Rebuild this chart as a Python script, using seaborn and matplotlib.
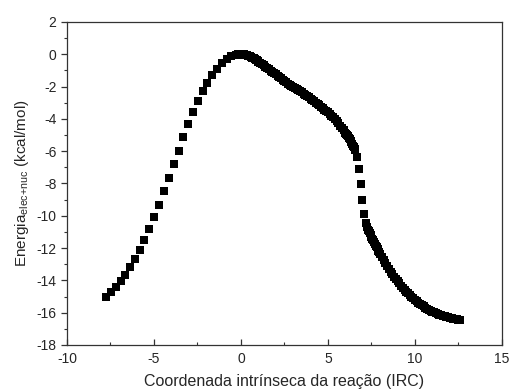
import numpy as np
import pandas as pd
import seaborn as sns
import matplotlib.pyplot as plt
from matplotlib.ticker import MultipleLocator

# ramo esquerdo (pontos espaçados)
irc_esq = [-7.76, -7.47, -7.18, -6.91, -6.65, -6.36, -6.09, -5.82, -5.56, -5.27,
           -5.00, -4.71, -4.44, -4.16, -3.87, -3.58, -3.32, -3.05, -2.76, -2.47,
           -2.20, -1.94, -1.67, -1.38, -1.09, -0.82, -0.56, -0.29, -0.20, -0.10]
en_esq = [-15.03, -14.72, -14.41, -14.04, -13.65, -13.19, -12.68, -12.14, -11.52, -10.84,
          -10.10, -9.31, -8.48, -7.64, -6.79, -5.97, -5.12, -4.34, -3.59, -2.89,
          -2.29, -1.76, -1.28, -0.89, -0.54, -0.29, -0.09, -0.02, -0.01, 0.00]

# ramo direito, parte densa 1
irc_dir1 = [0.0, 0.05, 0.1, 0.15, 0.2, 0.25, 0.3, 0.35, 0.4, 0.45, 0.5, 0.55, 0.6, 0.65, 0.7, 0.75, 0.8, 0.85, 0.9, 0.95,
            1.0, 1.1, 1.2, 1.3, 1.4, 1.5, 1.6, 1.7, 1.8, 1.9,
            2.0, 2.1, 2.2, 2.3, 2.4, 2.5, 2.6, 2.7, 2.8, 2.9,
            3.0, 3.1, 3.2, 3.3, 3.4, 3.5, 3.6, 3.7, 3.8, 3.9,
            4.0, 4.1, 4.2, 4.3, 4.4, 4.5, 4.6, 4.7, 4.8, 4.9,
            5.0, 5.1, 5.2, 5.3, 5.4, 5.5, 5.6, 5.7, 5.8, 5.9,
            6.0, 6.05, 6.1, 6.15, 6.2, 6.25, 6.3, 6.35, 6.4, 6.45, 6.5, 6.54, 6.58]
en_dir1 = [0.00, 0.00, -0.01, -0.01, -0.02, -0.03, -0.04, -0.06, -0.08, -0.10, -0.12, -0.14, -0.17, -0.20, -0.23, -0.26, -0.30, -0.33, -0.37, -0.41,
           -0.45, -0.53, -0.61, -0.69, -0.77, -0.85, -0.93, -1.01, -1.09, -1.17,
           -1.25, -1.33, -1.41, -1.49, -1.57, -1.65, -1.73, -1.81, -1.88, -1.95,
           -2.02, -2.08, -2.15, -2.21, -2.28, -2.35, -2.43, -2.51, -2.59, -2.67,
           -2.75, -2.83, -2.91, -2.99, -3.07, -3.15, -3.24, -3.33, -3.42, -3.51,
           -3.60, -3.70, -3.80, -3.91, -4.03, -4.15, -4.28, -4.41, -4.55, -4.70,
           -4.85, -4.93, -5.01, -5.09, -5.18, -5.27, -5.36, -5.45, -5.55, -5.65, -5.75, -5.85, -5.95]

# queda abrupta (pontos espaçados)
irc_queda = [6.65, 6.76, 6.88, 6.98, 7.09, 7.18]
en_queda = [-6.34, -7.12, -8.05, -9.05, -9.89, -10.47]

# ramo direito, parte densa 2
irc_dir2 = [7.25, 7.3, 7.35, 7.4, 7.45, 7.5, 7.55, 7.6, 7.65, 7.7, 7.75, 7.8, 7.85, 7.9, 7.95,
            8.0, 8.1, 8.2, 8.3, 8.4, 8.5, 8.6, 8.7, 8.8, 8.9,
            9.0, 9.1, 9.2, 9.3, 9.4, 9.5, 9.6, 9.7, 9.8, 9.9,
            10.0, 10.1, 10.2, 10.3, 10.4, 10.5, 10.6, 10.7, 10.8, 10.9,
            11.0, 11.1, 11.2, 11.3, 11.4, 11.5, 11.6, 11.7, 11.8, 11.9,
            12.0, 12.1, 12.2, 12.3, 12.4, 12.5, 12.6]
en_dir2 = [-10.72, -10.85, -10.96, -11.08, -11.19, -11.30, -11.41, -11.52, -11.63, -11.74, -11.85, -11.95, -12.06, -12.16, -12.26,
           -12.36, -12.56, -12.75, -12.93, -13.11, -13.28, -13.45, -13.61, -13.76, -13.91,
           -14.05, -14.19, -14.32, -14.45, -14.57, -14.69, -14.80, -14.91, -15.01, -15.11,
           -15.20, -15.29, -15.38, -15.46, -15.54, -15.61, -15.68, -15.75, -15.81, -15.87,
           -15.93, -15.98, -16.03, -16.08, -16.12, -16.16, -16.20, -16.23, -16.26, -16.29,
           -16.32, -16.35, -16.37, -16.39, -16.41, -16.43, -16.45]

df = pd.DataFrame({
    "irc": irc_esq + irc_dir1 + irc_queda + irc_dir2,
    "energia": en_esq + en_dir1 + en_queda + en_dir2,
})

sns.set_style("white")
plt.rcParams['font.family'] = ['Liberation Sans', 'DejaVu Sans']
plt.rcParams['axes.unicode_minus'] = False

fig = plt.figure(figsize=(5.09, 3.92), dpi=100)
ax = fig.add_axes([0.1316, 0.1199, 0.8546, 0.824])

sns.scatterplot(data=df, x="irc", y="energia", marker="s", color="black",
                s=27, linewidth=0, ax=ax)

ax.set_xlim(-10, 15)
ax.set_ylim(-18, 2)
ax.xaxis.set_major_locator(MultipleLocator(5))
ax.xaxis.set_minor_locator(MultipleLocator(2.5))
ax.yaxis.set_major_locator(MultipleLocator(2))
ax.yaxis.set_minor_locator(MultipleLocator(1))
# eixo x com marcas para dentro, eixo y para fora
ax.tick_params(axis="x", which="major", direction="in", length=4, width=0.9, pad=5)
ax.tick_params(axis="x", which="minor", direction="in", length=2.5, width=0.8)
ax.tick_params(axis="y", which="major", direction="out", length=4.5, width=0.9, pad=3)
ax.tick_params(axis="y", which="minor", direction="out", length=2.5, width=0.8)
ax.tick_params(which="both", labelsize=10, color="#333333",
               bottom=True, left=True, top=False, right=False)
for sp in ax.spines.values():
    sp.set_color("#333333")
    sp.set_linewidth(0.9)

ax.set_xlabel("Coordenada intrínseca da reação (IRC)", fontsize=11.5, labelpad=6)
ax.set_ylabel("Energia$_{\\mathregular{elec{+}nuc}}$ (kcal/mol)", fontsize=11, labelpad=4)

plt.savefig("out.png", dpi=100)
